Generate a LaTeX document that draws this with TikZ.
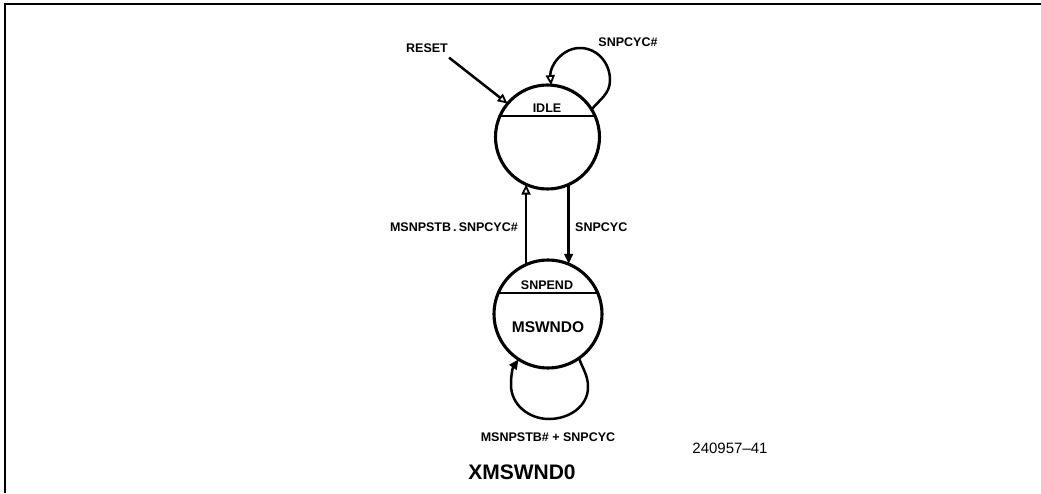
\documentclass[tikz,border=0pt]{standalone}
\usepackage{fontspec}
\setmainfont{Liberation Sans}
\usetikzlibrary{arrows.meta}
\begin{document}
\begin{tikzpicture}[x=1pt,y=1pt,
  state/.style={circle,draw,line width=3.1pt,inner sep=0pt,outer sep=0pt},
  lbl/.style={font=\bfseries\fontsize{12.5}{12.5}\selectfont,inner sep=0pt},
  biglbl/.style={font=\bfseries\fontsize{15.5}{15.5}\selectfont,inner sep=0pt},
  edge/.style={line width=2.5pt},
  chord/.style={line width=2.5pt},
  opentip/.style={-{Triangle[open,length=10pt,width=9pt,line width=1.8pt]}},
  filltip/.style={-{Triangle[length=10pt,width=8.5pt]}}]
\useasboundingbox (0,0) rectangle (1041,493);
\draw[line width=2.8pt] (5,0) -- (5,489) -- (1041,489);

% states
\node[state,minimum size=104pt] (idle) at (547.5,356) {};
\node[state,minimum size=108pt] (snpend) at (548,179) {};
\draw[chord] (idle.156) -- (idle.24);
\draw[chord] (snpend.157) -- (snpend.23);
\node[lbl] (idletxt) at (547,385) {IDLE};
\node[lbl] (snpendtxt) at (547,208) {SNPEND};
\node[biglbl] (mswndo) at (548,166) {MSWNDO};

% reset
\node[lbl] (reset) at (427,445) {RESET};
\draw[edge,opentip] ([shift={(1,-5)}]reset.south east) -- (idle.140);

% self loop on IDLE
\node[lbl] (snpcycn) at (628,451) {SNPCYC\#};
\draw[edge,opentip] (idle.32) to[out=50,in=270] (610,413) to[out=90,in=0] (580,445) to[out=180,in=95] (idle.86);

% transitions between states
\draw[edge,opentip] (snpend.114) -- (snpend.114 |- idle.246);
\draw[edge,filltip] (idle.294) -- (idle.294 |- snpend.68);
\node[lbl,anchor=east] (upl) at (518,266) {MSNPSTB\,.\,SNPCYC\#};
\node[lbl,anchor=west] (downl) at (575,266) {SNPCYC};

% self loop on SNPEND
\draw[edge,filltip] (snpend.305) to[out=-70,in=90] (588,106) to[out=270,in=0] (549,74) to[out=180,in=270] (511,108) to[out=90,in=235] (snpend.237);
\node[lbl] (loopl) at (548,56) {MSNPSTB\# + SNPCYC};

% captions
\node[font=\fontsize{15}{15}\selectfont,inner sep=0pt] (fig) at (730,45) {240957--41};
\node[font=\bfseries\fontsize{21}{21}\selectfont,inner sep=0pt] (title) at (522,21) {XMSWND0};
\end{tikzpicture}
\end{document}
